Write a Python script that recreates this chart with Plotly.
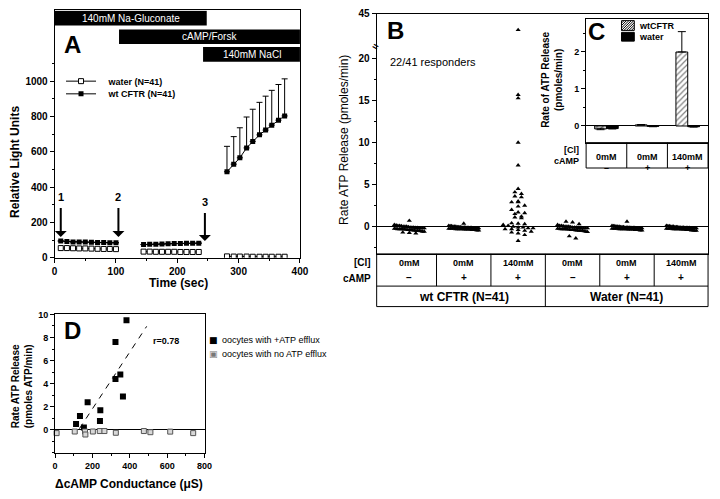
import numpy as np
import plotly.graph_objects as go

W, H = 720, 499
FONT = "Liberation Sans"

# ---------------- panel A : luminometer readings ----------------
a_t1 = [10, 20, 30, 40, 50, 60, 70, 80, 90, 100]
a_t2 = [145, 155, 165, 175, 185, 195, 205, 215, 225, 235]
a_t3 = [281, 292, 302, 313, 323, 334, 344, 354, 365, 375]
a_cftr1 = [95, 92, 90, 90, 89, 88, 86, 86, 85, 85]
a_cftr2 = [75, 76, 77, 78, 80, 81, 81, 82, 82, 83]
a_cftr3 = [487, 530, 566, 622, 659, 696, 723, 751, 779, 803]
a_cftr3_err = [144, 156, 170, 175, 182, 184, 192, 197, 202, 210]
a_water1 = [55, 55, 54, 53, 53, 52, 51, 50, 50, 49]
a_water2 = [35, 35, 34, 34, 34, 34, 33, 33, 33, 33]
a_water3 = [8, 7, 7, 7, 6, 6, 6, 6, 6, 6]

a_bar_labels = ["140mM Na-Gluconate", "cAMP/Forsk", "140mM NaCl"]
a_bar_start = [0, 105, 242]
a_bar_end = [248, 400, 400]
a_arrow_t = [10, 104, 245]
a_arrow_labels = ["1", "2", "3"]

# ---------------- panel B : per-oocyte rates ----------------
b_cl = ["0mM", "0mM", "140mM", "0mM", "0mM", "140mM"]
b_camp = ["\u2013", "+", "+", "\u2013", "+", "+"]
b_groups = ["wt CFTR (N=41)", "Water (N=41)"]
b_wt_0_minus = [0.7, 0.2, 0.15, 0.1, 0.1, 0.05, 0.0, 0.0, 0.0, -0.05, -0.1, -0.1, -0.1,
                -0.15, -0.15, -0.2, -0.2, -0.2, -0.2, -0.25, -0.25, -0.3, -0.3, -0.3, -0.3,
                -0.35, -0.35, -0.4, -0.4, -0.4, -0.45, -0.45, -0.5, -0.5, -0.5, -0.55, -0.6,
                -0.6, -0.7, -0.75, -0.8]
b_wt_0_plus = [0.35, 0.1, 0.05, 0.05, 0.0, 0.0, 0.0, -0.05, -0.05, -0.05, -0.1, -0.1, -0.1,
               -0.1, -0.15, -0.15, -0.15, -0.15, -0.2, -0.2, -0.2, -0.2, -0.2, -0.25, -0.25,
               -0.25, -0.25, -0.3, -0.3, -0.3, -0.3, -0.3, -0.35, -0.35, -0.35, -0.35, -0.4,
               -0.4, -0.4, -0.45, -0.45]
b_wt_140_plus = [36, 15.7, 15.3, 10.0, 7.3, 4.5, 4.1, 3.9, 3.6, 3.5, 3.0, 2.9, 2.9, 2.5,
                 2.4, 2.0, 1.7, 1.6, 1.5, 1.2, 1.1, 1.0, 0.4, 0.35, 0.3, 0.2, 0.1, 0.0, -0.1,
                 -0.1, -0.2, -0.2, -0.3, -0.3, -0.4, -0.5, -0.6, -0.7, -0.8, -1.0, -1.7]
b_h2o_0_minus = [0.6, 0.5, 0.3, 0.2, 0.1, 0.1, 0.05, 0.0, 0.0, 0.0, -0.05, -0.1, -0.1, -0.1,
                 -0.15, -0.15, -0.2, -0.2, -0.2, -0.2, -0.25, -0.25, -0.3, -0.3, -0.3, -0.3,
                 -0.35, -0.35, -0.4, -0.4, -0.4, -0.45, -0.45, -0.5, -0.5, -0.5, -0.55, -0.6,
                 -0.65, -1.15, -1.4]
b_h2o_0_plus = [0.6, 0.1, 0.05, 0.05, 0.0, 0.0, 0.0, -0.05, -0.05, -0.05, -0.1, -0.1, -0.1,
                -0.1, -0.15, -0.15, -0.15, -0.15, -0.2, -0.2, -0.2, -0.2, -0.2, -0.25, -0.25,
                -0.25, -0.25, -0.3, -0.3, -0.3, -0.3, -0.3, -0.35, -0.35, -0.35, -0.35, -0.4,
                -0.4, -0.4, -0.45, -0.45]
b_h2o_140_plus = [0.1, 0.05, 0.05, 0.0, 0.0, 0.0, -0.05, -0.05, -0.05, -0.1, -0.1, -0.1,
                  -0.1, -0.15, -0.15, -0.15, -0.15, -0.2, -0.2, -0.2, -0.2, -0.2, -0.25,
                  -0.25, -0.25, -0.25, -0.3, -0.3, -0.3, -0.3, -0.3, -0.35, -0.35, -0.35,
                  -0.4, -0.4, -0.4, -0.45, -0.45, -0.5, -0.5]
b_tickvals = [0, 5, 10, 15, 20, 45]

# ---------------- panel C : mean rates ----------------
c_cl = ["0mM", "0mM", "140mM"]
c_camp = ["\u2013", "+", "+"]
c_wt = [-0.08, 0.03, 2.0]
c_wt_err = [0.02, 0.01, 0.55]
c_water = [-0.07, -0.01, -0.02]
c_water_err = [0.01, 0.01, 0.01]

# ---------------- panel D : rate vs conductance ----------------
d_pos_x = [112, 133, 154, 174, 240, 242, 323, 323, 349, 363, 382]
d_pos_y = [0.5, 1.2, 0.2, 2.4, 0.76, 1.7, 4.4, 7.6, 4.8, 2.9, 9.5]
d_neg_x = [8, 105, 160, 162, 202, 239, 264, 325, 475, 510, 616, 739]
d_neg_y = [-0.28, -0.14, -0.14, -0.4, -0.14, -0.1, -0.1, -0.25, -0.1, -0.2, -0.15, -0.28]
d_fit_slope = 0.0246
d_fit_int = -3.09
d_fit_x = [130, 490]
d_r = "r=0.78"

B_SQUEEZE = 0.214  # compression of the B axis above the break at 20


def brk(v):
    v = np.asarray(v, float)
    return np.where(v <= 20, v, 20 + (v - 20) * B_SQUEEZE)


def swarm(vals, center, step=0.45, gap=0.12, width=0.55):
    vals = np.asarray(vals, float)
    xs = np.zeros_like(vals)
    bins = np.round(vals / step)
    for b in np.unique(bins):
        idx = np.where(bins == b)[0]
        n = len(idx)
        sp = min(gap, width / max(n - 1, 1))
        xs[idx] = center + (np.arange(n) - (n - 1) / 2) * sp
    return xs


def px(x):
    return x / W


def py(y):
    return 1 - y / H


def txt(x, y, s, size=10, bold=True, xanchor="center", angle=0, color="black", family=FONT):
    return dict(xref="paper", yref="paper", x=px(x), y=py(y), text=s, showarrow=False,
                xanchor=xanchor, yanchor="middle", textangle=angle,
                font=dict(family=family, size=size, color=color,
                          weight="bold" if bold else "normal"))


def hatched_box(x0, y0, x1, y1, step=2.5):
    # legend key: outlined box filled with "/" hatching (pixel coords -> paper path)
    w, h = x1 - x0, y1 - y0
    parts = []
    for X, Y in [(x0, y0), (x1, y0), (x1, y1), (x0, y1)]:
        parts.append(("M" if not parts else "L") + f"{px(X)},{py(Y)}")
    parts.append("Z")
    d = -h
    while d < w:
        lo, hi = max(0, -d), min(h, w - d)
        if lo < hi:
            parts.append(f"M{px(x0 + d + lo)},{py(y1 - lo)}L{px(x0 + d + hi)},{py(y1 - hi)}")
        d += step
    return dict(type="path", xref="paper", yref="paper", path="".join(parts),
                line=dict(color="black", width=1), fillcolor="white")


def seg(*parts):
    out = []
    for i, p in enumerate(parts):
        if i:
            out.append(None)
        out.extend(p)
    return out


fig = go.Figure()

# ---- A traces
a_t = seg(a_t1, a_t2, a_t3)
fig.add_trace(go.Scatter(
    x=a_t, y=seg(a_water1, a_water2, a_water3), mode="lines+markers",
    name="\u00a0\u00a0\u00a0water (N=41)", line=dict(color="black", width=1),
    marker=dict(symbol="square", size=5, color="white", line=dict(color="black", width=1)),
    xaxis="x", yaxis="y", legend="legend"))
fig.add_trace(go.Scatter(
    x=a_t, y=seg(a_cftr1, a_cftr2, a_cftr3), mode="lines+markers",
    name="\u00a0\u00a0\u00a0wt CFTR (N=41)", line=dict(color="black", width=1),
    marker=dict(symbol="square", size=5, color="black"),
    error_y=dict(type="data", symmetric=False,
                 array=seg([None] * 10, [None] * 10, a_cftr3_err),
                 arrayminus=seg([None] * 10, [None] * 10, [0] * 10),
                 color="black", thickness=1, width=3),
    xaxis="x", yaxis="y", legend="legend2"))

# ---- B traces
b_sets = [b_wt_0_minus, b_wt_0_plus, b_wt_140_plus, b_h2o_0_minus, b_h2o_0_plus, b_h2o_140_plus]
for i, vals in enumerate(b_sets):
    yv = brk(vals)
    fig.add_trace(go.Scatter(
        x=swarm(yv, i), y=yv, mode="markers", showlegend=False,
        marker=dict(symbol="triangle-up", size=4.5, color="black"),
        xaxis="x2", yaxis="y2", cliponaxis=False))

# ---- C traces
fig.add_trace(go.Bar(
    x=[0, 1, 2], y=c_wt, name="wtCFTR", xaxis="x3", yaxis="y3", showlegend=False,
    marker=dict(color="white", line=dict(color="black", width=1),
                pattern=dict(shape="/", fgcolor="black", bgcolor="white", size=4, solidity=0.3)),
    error_y=dict(type="data", symmetric=False, array=c_wt_err, arrayminus=[0.02, 0.01, 0],
                 color="black", thickness=1, width=4)))
fig.add_trace(go.Bar(
    x=[0, 1, 2], y=c_water, name="water", xaxis="x3", yaxis="y3", showlegend=False,
    marker=dict(color="black", line=dict(color="black", width=1)),
    error_y=dict(type="data", array=c_water_err, color="black", thickness=1, width=4)))

# ---- D traces
fig.add_trace(go.Scatter(
    x=d_pos_x, y=d_pos_y, mode="markers", name="oocytes with +ATP efflux", showlegend=False,
    marker=dict(symbol="square", size=6, color="black"),
    xaxis="x4", yaxis="y4"))
fig.add_trace(go.Scatter(
    x=d_neg_x, y=d_neg_y, mode="markers", name="oocytes with no ATP efflux", showlegend=False,
    marker=dict(symbol="square", size=5, color="#d8d8d8", line=dict(color="#555", width=1)),
    xaxis="x4", yaxis="y4", cliponaxis=False))
fx = np.array(d_fit_x, float)
fig.add_trace(go.Scatter(
    x=fx, y=d_fit_slope * fx + d_fit_int, mode="lines", showlegend=False,
    line=dict(color="black", width=1, dash="6px,6px"), xaxis="x4", yaxis="y4"))

# ---- axes
tick_font = dict(family=FONT, size=10, color="black", weight="bold")
base = dict(showline=True, linecolor="black", linewidth=1, mirror=True, showgrid=False,
            zeroline=False, ticks="outside", ticklen=4, tickcolor="black", tickfont=tick_font)
leg_font = dict(family=FONT, size=9, color="black", weight="bold")

fig.update_layout(
    xaxis=dict(base, domain=[px(52.5), px(302)], range=[0, 400], anchor="y",
               tickvals=[0, 100, 200, 300, 400],
               minor=dict(ticks="outside", ticklen=2, dtick=50, tickcolor="black")),
    yaxis=dict(base, domain=[py(258), py(4.6)], range=[0, 1400], anchor="x",
               tickvals=[0, 200, 400, 600, 800, 1000],
               minor=dict(ticks="outside", ticklen=2, tickvals=[100, 300, 500, 700, 900, 1100],
                          tickcolor="black")),
    xaxis2=dict(base, domain=[px(380), px(717)], range=[-0.6, 5.49], anchor="y2",
                ticks="", showticklabels=False),
    yaxis2=dict(base, domain=[py(254), py(8)], range=[-3.26, 25.35], anchor="x2",
                tickvals=list(brk(b_tickvals)), ticktext=[str(v) for v in b_tickvals],
                zeroline=True, zerolinecolor="black", zerolinewidth=1,
                minor=dict(ticks="outside", ticklen=2, tickvals=[-2.5, 2.5, 7.5, 12.5, 17.5],
                           tickcolor="black")),
    xaxis3=dict(base, domain=[px(593), px(717)], range=[-0.5, 2.5], anchor="y3",
                ticks="", showticklabels=False),
    yaxis3=dict(base, domain=[py(140), py(13)], range=[-0.45, 2.9], anchor="x3",
                tickvals=[0, 1, 2], tickfont=dict(tick_font, size=9),
                zeroline=True, zerolinecolor="black", zerolinewidth=1,
                minor=dict(ticks="outside", ticklen=2, tickvals=[0.5, 1.5, 2.5],
                           tickcolor="black")),
    xaxis4=dict(base, domain=[px(53), px(205)], range=[0, 800], anchor="y4",
                tickvals=[0, 200, 400, 600, 800], tickfont=dict(tick_font, size=9),
                minor=dict(ticks="outside", ticklen=2, dtick=100, tickcolor="black")),
    yaxis4=dict(base, domain=[py(458), py(316)], range=[-2, 10], anchor="x4",
                tickvals=[0, 2, 4, 6, 8, 10], tickfont=dict(tick_font, size=9),
                zeroline=True, zerolinecolor="black", zerolinewidth=1,
                minor=dict(ticks="outside", ticklen=2, dtick=1, tickcolor="black")),
    barmode="group", bargap=0.42, bargroupgap=0,
    width=W, height=H, margin=dict(l=0, r=0, t=0, b=0),
    paper_bgcolor="white", plot_bgcolor="white",
    font=dict(family=FONT, color="black"),
    legend=dict(x=px(59), y=py(77), xanchor="left", yanchor="middle",
                bgcolor="rgba(0,0,0,0)", font=leg_font, itemwidth=30),
    legend2=dict(x=px(59), y=py(90), xanchor="left", yanchor="middle",
                 bgcolor="rgba(0,0,0,0)", font=leg_font, itemwidth=30),
)

shapes = []
ann = []

# A: solution bars with labels
a_bar_y = [(1315, 1398), (1210, 1293), (1110, 1193)]
for lab, x0, x1, (y0, y1) in zip(a_bar_labels, a_bar_start, a_bar_end, a_bar_y):
    shapes.append(dict(type="rect", xref="x", yref="y", x0=x0, x1=x1, y0=y0, y1=y1,
                       fillcolor="black", line=dict(width=0)))
    ann.append(dict(xref="x", yref="y", x=(x0 + x1) / 2, y=(y0 + y1) / 2, text=lab,
                    showarrow=False, font=dict(family=FONT, size=10, color="white")))

# A: arrows
for t, lab, tip, top in zip(a_arrow_t, a_arrow_labels, [118, 118, 95], [290, 290, 262]):
    ann.append(dict(xref="x", yref="y", axref="x", ayref="y", x=t, y=tip, ax=t, ay=top,
                    text="", showarrow=True, arrowhead=1, arrowsize=1, arrowwidth=2,
                    arrowcolor="black"))
    ann.append(dict(xref="x", yref="y", x=t, y=top + 55, text=lab, showarrow=False,
                    font=dict(family=FONT, size=11, color="black", weight="bold")))

# panel letters
for s, x, y in [("A", 71, 39), ("B", 399, 25), ("C", 604, 26), ("D", 71, 333)]:
    ann.append(txt(x, y, s, size=24))

# axis titles
ann.append(txt(12, 160, "Relative Light Units", size=12, angle=-90))
ann.append(txt(178, 284, "Time (sec)", size=12))
ann.append(txt(346, 137, "Rate ATP Release (pmoles/min)", size=12, bold=False, angle=-90))
ann.append(txt(558, 76, "Rate of ATP Release<br>(pmoles/min)", size=10, angle=-90))
ann.append(txt(19, 390, "Rate ATP Release<br>(pmoles ATP/min)", size=10, angle=-90))
ann.append(txt(128, 490, "\u0394cAMP Conductance (\u03bcS)", size=12))
ann.append(txt(392, 57, "22/41 responders", size=11, bold=False, xanchor="left"))
ann.append(txt(379, 41, "=", size=10, angle=30))
ann.append(txt(150, 343, d_r, size=9, xanchor="left"))

# C legend
shapes.append(hatched_box(629, 15, 642, 25))
shapes.append(dict(type="rect", xref="paper", yref="paper", x0=px(629), x1=px(642),
                   y0=py(36), y1=py(27), fillcolor="black", line=dict(color="black", width=1)))
ann.append(txt(645, 20, "wtCFTR", size=9, xanchor="left"))
ann.append(txt(645, 32, "water", size=9, xanchor="left"))

# D legend
ann.append(txt(214, 342, "\u25a0", size=9, bold=False, family="DejaVu Sans"))
ann.append(txt(221, 342, "oocytes with +ATP efflux", size=9, bold=False, xanchor="left"))
ann.append(txt(214, 357, "\u25a3", size=9, bold=False, color="#777", family="DejaVu Sans"))
ann.append(txt(221, 357, "oocytes with no ATP efflux", size=9, bold=False, xanchor="left"))

# B table
shapes.append(dict(type="rect", xref="paper", yref="paper", x0=px(380), x1=px(717),
                   y0=py(308), y1=py(254), line=dict(color="black", width=1)))
shapes.append(dict(type="line", xref="paper", yref="paper", x0=px(380), x1=px(717),
                   y0=py(287), y1=py(287), line=dict(color="black", width=1)))
for i in range(5):
    shapes.append(dict(type="line", xref="x2", yref="paper", x0=i + 0.5, x1=i + 0.5,
                       y0=py(308 if i == 2 else 287), y1=py(254),
                       line=dict(color="black", width=1)))
for i, (cl, ca) in enumerate(zip(b_cl, b_camp)):
    ann.append(dict(xref="x2", yref="paper", x=i, y=py(263), text=cl, showarrow=False,
                    font=dict(family=FONT, size=9, color="black", weight="bold")))
    ann.append(dict(xref="x2", yref="paper", x=i, y=py(278), text=ca, showarrow=False,
                    font=dict(family=FONT, size=10, color="black", weight="bold")))
for i, g in enumerate(b_groups):
    ann.append(dict(xref="x2", yref="paper", x=1 + 3 * i, y=py(298), text=g, showarrow=False,
                    font=dict(family=FONT, size=12, color="black", weight="bold")))
ann.append(txt(376, 263, "[Cl]", size=10, xanchor="right"))
ann.append(txt(376, 279, "cAMP", size=10, xanchor="right"))

# C table
shapes.append(dict(type="rect", xref="paper", yref="paper", x0=px(593), x1=px(717),
                   y0=py(166), y1=py(140), line=dict(color="black", width=1)))
for i in range(2):
    shapes.append(dict(type="line", xref="x3", yref="paper", x0=i + 0.5, x1=i + 0.5,
                       y0=py(166), y1=py(140), line=dict(color="black", width=1)))
for i, (cl, ca) in enumerate(zip(c_cl, c_camp)):
    ann.append(dict(xref="x3", yref="paper", x=i, y=py(148), text=cl, showarrow=False,
                    font=dict(family=FONT, size=9, color="black", weight="bold")))
    ann.append(dict(xref="x3", yref="paper", x=i, y=py(159), text=ca, showarrow=False,
                    font=dict(family=FONT, size=9, color="black", weight="bold")))
ann.append(txt(588, 148, "[Cl]", size=9, xanchor="right"))
ann.append(txt(588, 159, "cAMP", size=9, xanchor="right"))

fig.update_layout(shapes=shapes, annotations=ann)
# the page body has a default 8px margin; drop it so the figure sits at the window origin
fig.write_html("out.html", config={"displayModeBar": False},
               post_script="document.body.style.margin='0px';")
